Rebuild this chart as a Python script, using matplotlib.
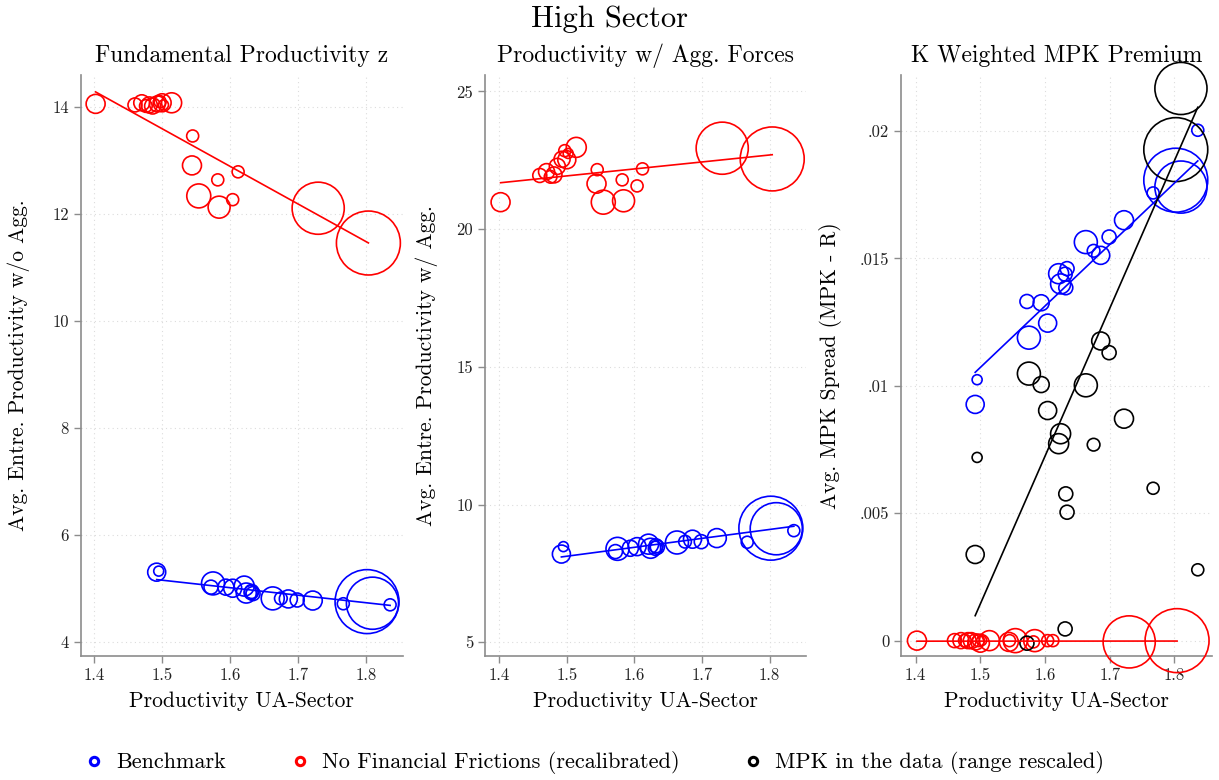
import numpy as np
import matplotlib
matplotlib.use("Agg")
import matplotlib.pyplot as plt
from matplotlib.lines import Line2D
from matplotlib.ticker import FixedLocator, FixedFormatter

plt.rcParams["font.family"] = ["cmr10", "DejaVu Serif"]
plt.rcParams["axes.formatter.use_mathtext"] = True
plt.rcParams["axes.unicode_minus"] = False
plt.rcParams["mathtext.fontset"] = "cm"

# Benchmark model (also used for the data MPK series)
bench_x = [1.492, 1.495, 1.575, 1.572, 1.594, 1.604, 1.621, 1.624, 1.632, 1.634,
           1.631, 1.663, 1.675, 1.686, 1.699, 1.722, 1.767, 1.802, 1.810, 1.836]
bench_w = [81, 25, 132, 49, 64, 81, 100, 100, 49, 49,
           49, 132, 40, 81, 49, 90, 36, 1024, 680, 36]
bench_z = [5.31, 5.33, 5.10, 5.03, 5.03, 5.01, 5.05, 4.92, 4.95, 4.91,
           4.93, 4.82, 4.82, 4.81, 4.79, 4.78, 4.72, 4.76, 4.73, 4.70]
bench_agg = [8.20, 8.47, 8.39, 8.29, 8.41, 8.47, 8.56, 8.41, 8.50, 8.45,
             8.41, 8.62, 8.65, 8.74, 8.65, 8.78, 8.63, 9.14, 9.12, 9.05]
bench_mpk = [0.00927, 0.01024, 0.01189, 0.01331, 0.01326, 0.01246, 0.0144, 0.0140, 0.01385, 0.0146,
             0.01438, 0.01564, 0.0153, 0.01512, 0.01584, 0.0165, 0.01757, 0.01807, 0.0178, 0.02003]
data_mpk = [0.00338, 0.00719, 0.01048, -0.0001, 0.01005, 0.00903, 0.00773, 0.00812, 0.00576, 0.00504,
            0.00046, 0.01002, 0.00769, 0.01176, 0.0113, 0.00871, 0.00598, 0.01927, 0.02167, 0.00278]

# No financial frictions (recalibrated)
nff_x = [1.402, 1.460, 1.470, 1.476, 1.481, 1.486, 1.493, 1.497, 1.500, 1.502,
         1.514, 1.545, 1.544, 1.554, 1.582, 1.584, 1.604, 1.612, 1.730, 1.804]
nff_w = [90, 49, 64, 40, 64, 64, 64, 36, 81, 25,
         100, 36, 90, 144, 36, 121, 36, 36, 680, 1024]
nff_z = [14.06, 14.04, 14.08, 14.02, 14.04, 14.02, 14.06, 14.10, 14.08, 14.04,
         14.08, 13.46, 12.91, 12.34, 12.64, 12.13, 12.27, 12.79, 12.11, 11.46]
nff_agg = [20.98, 21.95, 22.09, 21.90, 21.97, 22.28, 22.54, 22.85, 22.52, 22.75,
           22.97, 22.16, 21.65, 20.98, 21.79, 21.03, 21.57, 22.19, 22.94, 22.55]
nff_mpk = [0.0, 0.0, 0.0, 0.0, 0.0, 0.0, -0.00005, 0.0, -0.0001, 0.0,
           0.0, 0.0, -0.00005, 0.0, -0.00005, 0.0, 0.0, 0.0, -0.00005, 0.0]

BLUE, RED, BLACK = "#0000ff", "#ff0000", "#000000"
SIZE = 2.07  # weight -> marker area in pt^2


def bubbles(ax, x, y, w, color):
    ax.scatter(x, y, s=np.array(w) * SIZE, facecolors="none", edgecolors=color,
               linewidths=1.2, clip_on=False, zorder=3)


def fit(ax, x, y, w, color):
    x = np.asarray(x)
    b, a = np.polyfit(x, y, 1, w=np.sqrt(w))
    xs = np.array([x.min(), x.max()])
    ax.plot(xs, a + b * xs, color=color, lw=1.2, zorder=4, clip_on=False)


def style(ax, title, ylabel, xlim, ylim, yticks, ylabels, ypad):
    ax.set_title(title, fontsize=17, pad=9)
    ax.set_xlabel("Productivity UA-Sector", fontsize=15.5, labelpad=6)
    ax.set_ylabel(ylabel, fontsize=15.5, labelpad=ypad)
    ax.set_xlim(*xlim)
    ax.set_ylim(*ylim)
    ax.xaxis.set_major_locator(FixedLocator([1.4, 1.5, 1.6, 1.7, 1.8]))
    ax.xaxis.set_major_formatter(FixedFormatter(["1.4", "1.5", "1.6", "1.7", "1.8"]))
    ax.yaxis.set_major_locator(FixedLocator(yticks))
    ax.yaxis.set_major_formatter(FixedFormatter(ylabels))
    for s in ["top", "right"]:
        ax.spines[s].set_visible(False)
    for s in ["left", "bottom"]:
        ax.spines[s].set_color("#8c8c8c")
        ax.spines[s].set_linewidth(1.2)
    ax.tick_params(colors="#8c8c8c", labelcolor="#222222", labelsize=12,
                   length=5, width=1.0)
    ax.grid(True, color="#dcdcdc", linestyle=(0, (1, 3)), linewidth=0.8)
    ax.set_axisbelow(True)


fig = plt.figure(figsize=(12.19, 7.8), dpi=100)
ax1 = fig.add_axes([0.0662, 0.1594, 0.2644, 0.7445])
ax2 = fig.add_axes([0.3979, 0.1594, 0.2633, 0.7445])
ax3 = fig.add_axes([0.7391, 0.1594, 0.2549, 0.7445])

# Fundamental productivity
bubbles(ax1, bench_x, bench_z, bench_w, BLUE)
bubbles(ax1, nff_x, nff_z, nff_w, RED)
fit(ax1, bench_x, bench_z, bench_w, BLUE)
fit(ax1, nff_x, nff_z, nff_w, RED)
style(ax1, "Fundamental Productivity z", "Avg. Entre. Productivity w/o Agg.",
      (1.38, 1.855), (3.75, 14.6), [4, 6, 8, 10, 12, 14],
      ["4", "6", "8", "10", "12", "14"], 16)

# Productivity with aggregate forces
bubbles(ax2, bench_x, bench_agg, bench_w, BLUE)
bubbles(ax2, nff_x, nff_agg, nff_w, RED)
fit(ax2, bench_x, bench_agg, bench_w, BLUE)
fit(ax2, nff_x, nff_agg, nff_w, RED)
style(ax2, "Productivity w/ Agg. Forces", "Avg. Entre. Productivity w/ Agg.",
      (1.379, 1.854), (4.51, 25.6), [5, 10, 15, 20, 25],
      ["5", "10", "15", "20", "25"], 13)

# MPK premium
bubbles(ax3, bench_x, bench_mpk, bench_w, BLUE)
bubbles(ax3, nff_x, nff_mpk, nff_w, RED)
bubbles(ax3, bench_x, data_mpk, bench_w, BLACK)
fit(ax3, bench_x, bench_mpk, bench_w, BLUE)
fit(ax3, nff_x, nff_mpk, nff_w, RED)
fit(ax3, bench_x, data_mpk, bench_w, BLACK)
style(ax3, "K Weighted MPK Premium", "Avg. MPK Spread (MPK - R)",
      (1.3773, 1.8575), (-0.00059, 0.0222), [0, 0.005, 0.01, 0.015, 0.02],
      ["0", ".005", ".01", ".015", ".02"], 13)

fig.suptitle("High Sector", fontsize=22, y=0.993)

handles = [Line2D([], [], ls="none", marker="o", markersize=6, mfc="none",
                  mec=c, mew=2.2) for c in (BLUE, RED, BLACK)]
labels = ["Benchmark", "No Financial Frictions (recalibrated)",
          "MPK in the data (range rescaled)"]
fig.legend(handles, labels, loc="center", bbox_to_anchor=(0.487, 0.022), ncol=3,
           frameon=False, fontsize=16, handletextpad=0.5, columnspacing=2.8,
           handlelength=1.0)

fig.savefig("out.png", dpi=100)
